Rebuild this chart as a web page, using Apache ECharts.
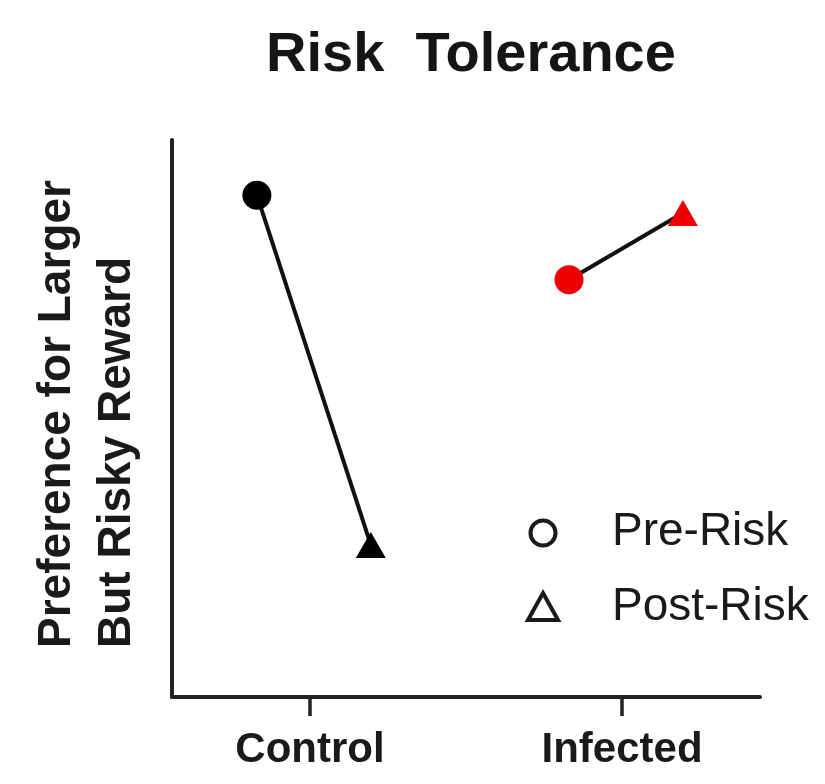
<!DOCTYPE html>
<html>
<head>
<meta charset="utf-8">
<script src="https://cdn.jsdelivr.net/npm/echarts@6/dist/echarts.min.js"></script>
<style>
  html, body { margin: 0; padding: 0; background: #fff; }
  #chart { width: 825px; height: 784px; }
</style>
</head>
<body>
<div id="chart"></div>
<script>
// Groups along the x axis and the two measurement phases
const groups = ['Control', 'Infected'];
const phases = ['Pre-Risk', 'Post-Risk'];

// Preference scores (arbitrary units) per group: [pre, post]
const controlValues = [90.1, 27.3];
const infectedValues = [74.9, 86.9];

// Marker shapes per phase
const phaseSymbols = ['circle', 'triangle'];

// Horizontal dodge of the pre/post markers around each group position
const dodge = [-0.17, 0.195];

const FONT = 'Liberation Sans, Arial, Helvetica, sans-serif';

function groupSeries(name, groupIndex, values, color) {
  return {
    name: name,
    type: 'line',
    data: values.map((v, i) => ({
      value: [groupIndex + 1 + dodge[i], v],
      symbol: phaseSymbols[i],
      symbolSize: i === 0 ? 29 : [30, 26]
    })),
    lineStyle: { color: '#111', width: 4 },
    itemStyle: { color: color },
    symbolKeepAspect: false,
    z: 3,
    animation: false
  };
}

const chart = echarts.init(document.getElementById('chart'));

chart.setOption({
  backgroundColor: '#ffffff',
  animation: false,
  title: {
    text: 'Risk  Tolerance',
    left: 466,
    textAlign: 'center',
    top: 23,
    textStyle: { fontFamily: FONT, fontSize: 56, fontWeight: 'bold', color: '#151515' }
  },
  grid: { left: 172, right: 65, top: 140, bottom: 87, containLabel: false },
  xAxis: {
    type: 'value',
    min: 0.558,
    max: 2.442,
    splitLine: { show: false },
    axisLine: { show: true, lineStyle: { color: '#222', width: 4 } },
    axisTick: {
      show: true,
      customValues: [1, 2],
      length: 19,
      lineStyle: { color: '#222', width: 3.5 }
    },
    axisLabel: {
      show: true,
      customValues: [1, 2],
      margin: 32,
      formatter: v => groups[Math.round(v) - 1] || '',
      fontFamily: FONT,
      fontSize: 42,
      fontWeight: 'bold',
      color: '#1a1a1a'
    }
  },
  yAxis: {
    type: 'value',
    min: 0,
    max: 100,
    splitLine: { show: false },
    axisLine: { show: true, lineStyle: { color: '#222', width: 4 } },
    axisTick: { show: false },
    axisLabel: { show: false }
  },
  series: [
    groupSeries(groups[0], 0, controlValues, '#000000'),
    groupSeries(groups[1], 1, infectedValues, '#ee0000')
  ],
  graphic: [
    // Two-line y-axis title, reading bottom to top
    {
      type: 'text', x: 57, y: 648, rotation: Math.PI / 2,
      style: {
        text: 'Preference for Larger', fontFamily: FONT, fontSize: 46,
        fontWeight: 'bold', fill: '#1a1a1a', textAlign: 'left', textVerticalAlign: 'middle'
      }
    },
    {
      type: 'text', x: 117, y: 648, rotation: Math.PI / 2,
      style: {
        text: 'But Risky Reward', fontFamily: FONT, fontSize: 46,
        fontWeight: 'bold', fill: '#1a1a1a', textAlign: 'left', textVerticalAlign: 'middle'
      }
    },
    // Phase key
    {
      type: 'circle', shape: { cx: 543, cy: 533, r: 12.5 },
      style: { fill: 'none', stroke: '#1a1a1a', lineWidth: 4 }
    },
    {
      type: 'polygon', shape: { points: [[543, 593], [558, 620], [528, 620]] },
      style: { fill: 'none', stroke: '#1a1a1a', lineWidth: 4 }
    },
    {
      type: 'text', x: 612, y: 532,
      style: { text: phases[0], fontFamily: FONT, fontSize: 46, fill: '#1a1a1a', textVerticalAlign: 'middle' }
    },
    {
      type: 'text', x: 612, y: 607,
      style: { text: phases[1], fontFamily: FONT, fontSize: 46, fill: '#1a1a1a', textVerticalAlign: 'middle' }
    }
  ]
});
</script>
</body>
</html>
